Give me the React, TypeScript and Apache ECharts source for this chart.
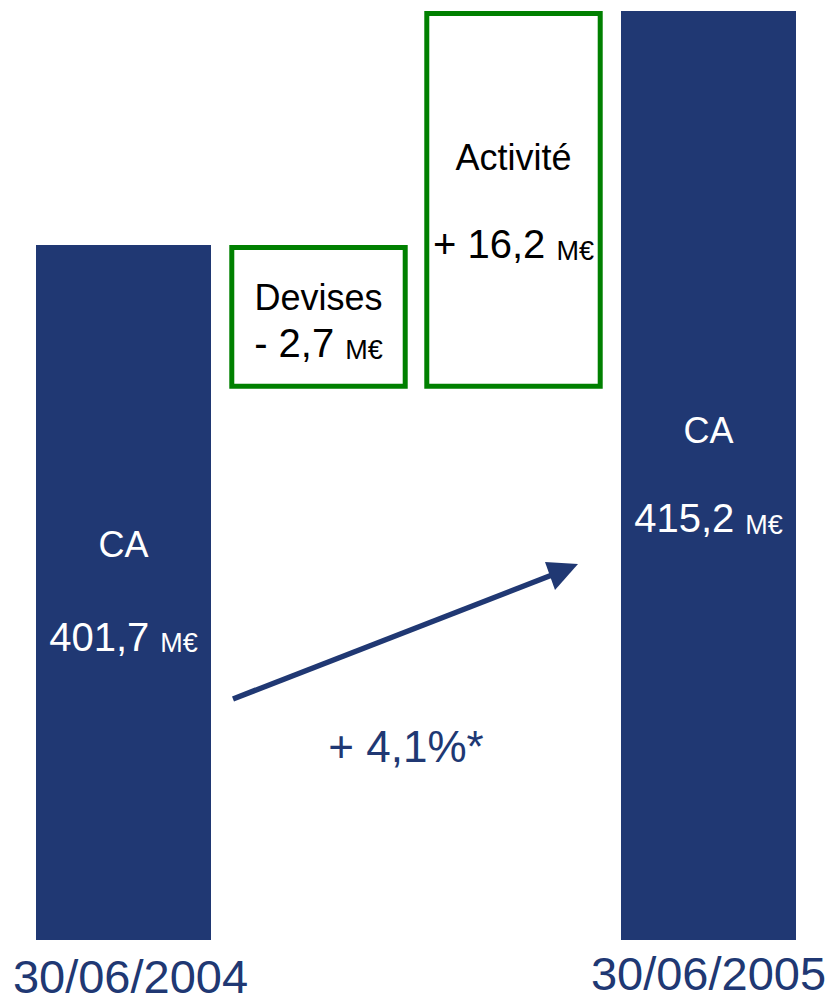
import React, { useEffect, useRef } from "react";
import * as echarts from "echarts";

// ---- data ----
const categories = ["30/06/2004", "Devises", "Activité", "30/06/2005"];
const caValues: (number | null)[] = [401.7, null, null, 415.2]; // CA, M€
const variationLabels = ["", "Devises", "Activité", ""];
const variationValues: (number | null)[] = [null, -2.7, 16.2, null]; // M€
// lower edge of the variation boxes as drawn (boxes are not to scale)
const boxLow: (number | null)[] = [null, 393.4, 393.4, null];
const growthLabel = "+ 4,1%*";
const axisMin = 361.6;
const axisMax = 415.2;

const NAVY = "#203873";
const GREEN = "#008000";
const FONT = "'Liberation Sans', Arial, sans-serif";

const fmt = (v: number) => Math.abs(v).toFixed(1).replace(".", ",");
const fmtSigned = (v: number) => (v < 0 ? "- " : "+ ") + fmt(v);

// line heights: [first line, second line]
function rich(color: string, l1: number, l2: number) {
  return {
    t: { fontSize: 36, color, fill: color, fontFamily: FONT, lineHeight: l1 },
    n: { fontSize: 40, color, fill: color, fontFamily: FONT, lineHeight: l2, verticalAlign: "bottom" },
    u: { fontSize: 27, color, fill: color, fontFamily: FONT, lineHeight: l2, verticalAlign: "bottom" },
  };
}

export default function App() {
  const ref = useRef<HTMLDivElement>(null);
  useEffect(() => {
    document.body.style.margin = "0";
    const chart = echarts.init(ref.current!, undefined, { renderer: "svg" });

    // waterfall running total to find the top of each variation box
    let running = caValues[0] as number;
    const boxData: any[] = [];
    variationValues.forEach((v, i) => {
      if (v == null) return;
      const top = v < 0 ? running : running + v;
      running += v;
      boxData.push([i, boxLow[i], top, v]);
    });

    const barLines: Record<number, [number, number]> = { 0: [34, 95], 3: [34, 91] };
    const barData = caValues.map((v, i) =>
      v == null
        ? "-"
        : {
            value: v,
            label: {
              show: true,
              position: "inside",
              formatter: (p: any) => `{t|CA}\n{n|${fmt(p.value)} }{u|M€}`,
              rich: rich("#fff", barLines[i][0], barLines[i][1]),
            },
          }
    );

    const boxLines: Record<number, [number, number]> = { 1: [54, 39], 2: [44, 85] };

    chart.setOption({
      animation: false,
      grid: { left: 26, right: 23, top: 11, bottom: 61, outerBoundsMode: "none", containLabel: false },
      xAxis: {
        type: "category",
        data: categories,
        axisLine: { show: false },
        axisTick: { show: false },
        axisLabel: {
          interval: 0,
          margin: 9,
          formatter: (val: string, idx: number) =>
            idx === 0 ? `{d0|${val}}` : idx === 3 ? `{d1|${val}}` : "",
          rich: {
            d0: { fontSize: 47, color: NAVY, fontFamily: FONT, lineHeight: 47, padding: [8, 0, 0, 14] },
            d1: { fontSize: 47, color: NAVY, fontFamily: FONT, lineHeight: 47, padding: [1, 0, 0, 0] },
          },
        },
      },
      yAxis: {
        type: "value",
        min: axisMin,
        max: axisMax,
        show: false,
        splitLine: { show: false },
      },
      series: [
        {
          type: "bar",
          name: "CA",
          data: barData,
          barWidth: 175,
          itemStyle: { color: NAVY },
        },
        {
          type: "custom",
          name: "Variation",
          data: boxData,
          renderItem: (params: any, api: any) => {
            const idx = api.value(0);
            const low = api.value(1);
            const high = api.value(2);
            const v = api.value(3);
            const pTop = api.coord([idx, high]);
            const pLow = api.coord([idx, low]);
            const band = api.size([1, 0])[0];
            const w = band * 0.915;
            const lw = 5;
            const lines = boxLines[idx] || [45, 45];
            const cy = (pTop[1] + pLow[1]) / 2;
            return {
              type: "group",
              children: [
                {
                  type: "rect",
                  shape: {
                    x: pTop[0] - w / 2 + lw / 2,
                    y: pTop[1] + lw / 2,
                    width: w - lw,
                    height: pLow[1] - pTop[1] - lw,
                  },
                  style: { fill: "#fff", stroke: GREEN, lineWidth: lw },
                },
                {
                  type: "text",
                  x: pTop[0],
                  y: cy,
                  style: {
                    text: `{t|${variationLabels[idx]}}\n{n|${fmtSigned(v)} }{u|M€}`,
                    align: "center",
                    verticalAlign: "middle",
                    fill: "#000",
                    rich: rich("#000", lines[0], lines[1]),
                  },
                },
              ],
            };
          },
        },
      ],
      graphic: [
        {
          type: "line",
          shape: { x1: 233, y1: 699, x2: 552, y2: 575 },
          style: { stroke: NAVY, lineWidth: 5.5 },
        },
        {
          type: "polygon",
          shape: { points: [[545, 562], [578, 564], [555, 590]] },
          style: { fill: NAVY },
        },
        {
          type: "text",
          x: 406,
          y: 746,
          style: {
            text: growthLabel,
            fontSize: 44,
            fontFamily: FONT,
            fill: NAVY,
            align: "center",
            verticalAlign: "middle",
          },
        },
      ],
    });
    return () => chart.dispose();
  }, []);
  return (
    <div
      ref={ref}
      style={{ position: "absolute", left: 0, top: 0, width: 829, height: 1001 }}
    />
  );
}
